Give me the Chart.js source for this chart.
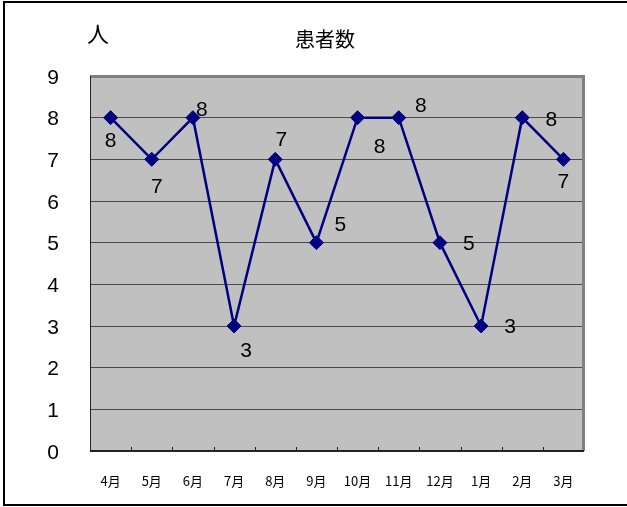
<!DOCTYPE html>
<html>
<head>
<meta charset="utf-8">
<script src="https://cdn.jsdelivr.net/npm/chart.js@4"></script>
<style>
    body { margin: 0; background: #fff; }
    canvas { display: block; }
</style>
</head>
<body>
<canvas id="patientChart" width="627" height="507"></canvas>
<script>
const months = ['4月', '5月', '6月', '7月', '8月', '9月', '10月', '11月', '12月', '1月', '2月', '3月'];
const patients = [8, 7, 8, 3, 7, 5, 8, 8, 5, 3, 8, 7];
const yTicks = [0, 1, 2, 3, 4, 5, 6, 7, 8, 9];
const chartTitle = '患者数';
const unitLabel = '人';

// where each value label sits relative to its marker, in px
const labelOffsets = [[0, 24], [5, 28], [9, -7], [12, 25], [6, -19], [24, -17],
    [22, 30], [22, -11], [29, 2], [29, 1], [29, 3], [0, 23]];

const numFont = '"Liberation Sans", Arial, sans-serif';
const jpFont = '"Noto Sans CJK JP", sans-serif';

const frame = {
    id: 'frame',
    beforeDraw(chart) {
        const { ctx, chartArea: a } = chart;
        ctx.save();
        ctx.fillStyle = '#fff';
        ctx.fillRect(0, 0, chart.width, chart.height);
        ctx.fillStyle = '#c0c0c0';
        ctx.fillRect(a.left, a.top, a.right - a.left, a.bottom - a.top);
        ctx.restore();
    },
    beforeDatasetsDraw(chart) {
        const { ctx, chartArea: a, scales } = chart;
        ctx.save();
        // top / right edge of the plot, grey
        ctx.strokeStyle = '#808080';
        ctx.lineWidth = 3;
        ctx.beginPath();
        ctx.moveTo(a.left, a.top + 0.5);
        ctx.lineTo(a.right - 0.5, a.top + 0.5);
        ctx.lineTo(a.right - 0.5, a.bottom);
        ctx.stroke();
        // axis lines
        ctx.strokeStyle = '#222';
        ctx.lineWidth = 1;
        ctx.beginPath();
        ctx.moveTo(a.left + 0.5, a.top);
        ctx.lineTo(a.left + 0.5, a.bottom);
        ctx.stroke();
        ctx.lineWidth = 2;
        ctx.beginPath();
        ctx.moveTo(a.left, a.bottom);
        ctx.lineTo(a.right, a.bottom);
        ctx.stroke();
        // small inside ticks between the months
        const x = scales.x;
        const step = (a.right - a.left) / months.length;
        ctx.lineWidth = 1;
        ctx.beginPath();
        for (let i = 1; i < months.length; i++) {
            const px = Math.round(x.getPixelForValue(i) - step / 2) + 0.5;
            ctx.moveTo(px, a.bottom);
            ctx.lineTo(px, a.bottom - 4);
        }
        ctx.stroke();
        ctx.restore();
    },
    afterDatasetsDraw(chart) {
        const { ctx } = chart;
        const pts = chart.getDatasetMeta(0).data;
        ctx.save();
        ctx.fillStyle = '#000';
        ctx.font = '21px ' + numFont;
        ctx.textAlign = 'center';
        ctx.textBaseline = 'middle';
        pts.forEach((p, i) => {
            const [dx, dy] = labelOffsets[i];
            ctx.fillText(String(patients[i]), p.x + dx, p.y + dy);
        });
        ctx.restore();
    },
    afterDraw(chart) {
        const { ctx } = chart;
        ctx.save();
        ctx.fillStyle = '#000';
        ctx.textAlign = 'center';
        ctx.textBaseline = 'middle';
        ctx.font = '20px ' + jpFont;
        ctx.fillText(chartTitle, 325, 39);
        ctx.font = '22px ' + jpFont;
        ctx.fillText(unitLabel, 98, 34);
        // outer frame (left, top, bottom)
        ctx.strokeStyle = '#000';
        ctx.lineWidth = 2;
        ctx.beginPath();
        ctx.moveTo(chart.width, 2);
        ctx.lineTo(4, 2);
        ctx.lineTo(4, 505);
        ctx.lineTo(chart.width, 505);
        ctx.stroke();
        ctx.restore();
    }
};

new Chart(document.getElementById('patientChart'), {
    type: 'line',
    data: {
        labels: months,
        datasets: [{
            label: chartTitle,
            data: patients,
            borderColor: '#000080',
            backgroundColor: '#000080',
            borderWidth: 2.5,
            pointStyle: 'rectRot',
            pointRadius: 7,
            pointBorderWidth: 1,
            tension: 0
        }]
    },
    options: {
        responsive: false,
        animation: false,
        layout: { padding: { top: 76, right: 43, bottom: 0, left: 0 } },
        plugins: {
            legend: { display: false },
            title: { display: false },
            tooltip: { enabled: false }
        },
        scales: {
            x: {
                offset: true,
                grid: { display: false, drawTicks: false },
                border: { display: false },
                ticks: {
                    color: '#000',
                    padding: 22,
                    maxRotation: 0,
                    font: { family: jpFont, size: 13 }
                },
                afterFit(scale) { scale.height = 56; }
            },
            y: {
                min: 0,
                max: 9,
                afterBuildTicks(scale) { scale.ticks = yTicks.map(v => ({ value: v })); },
                grid: { color: '#4a4a4a', lineWidth: 1, drawTicks: false },
                border: { display: false },
                ticks: {
                    color: '#000',
                    padding: 31,
                    labelOffset: 2,
                    font: { family: numFont, size: 21 }
                },
                afterFit(scale) { scale.width = 90; }
            }
        }
    },
    plugins: [frame]
});
</script>
</body>
</html>
